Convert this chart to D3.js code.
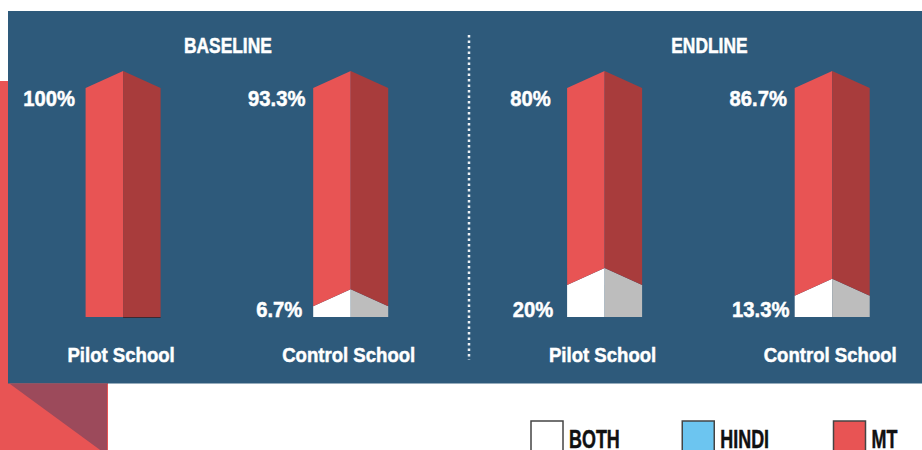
<!DOCTYPE html>
<html>
<head>
<meta charset="utf-8">
<script src="https://cdn.jsdelivr.net/npm/d3@7"></script>
<style>
  html, body { margin: 0; padding: 0; background: #ffffff; }
  svg { display: block; }
</style>
</head>
<body>
<svg id="chart" width="922" height="450"></svg>
<script>
// ---- data ----
const groups = ["BASELINE", "ENDLINE"];
const schools = ["Pilot School", "Control School"];
const bothValues  = [0, 6.7, 20, 13.3];   // BASELINE pilot, BASELINE control, ENDLINE pilot, ENDLINE control
const hindiValues = [0, 0, 0, 0];
const mtValues    = [100, 93.3, 80, 86.7];
const legendKeys  = ["BOTH", "HINDI", "MT"];

// ---- style ----
const PANEL = "#2E5A7B";
const RED = "#E85454", RED_DARK = "#A83C3C";
const WHITE = "#FFFFFF", GRAY = "#BDBDBD";
const BLUE = "#6CC5F0", BLUE_DARK = "#4A9CC4";
const FONT = "'Liberation Sans', Arial, sans-serif";

const svg = d3.select("#chart");

// decorative background shapes
svg.append("rect").attr("x", 0).attr("y", 81).attr("width", 8).attr("height", 369).attr("fill", RED);
svg.append("rect").attr("x", 0).attr("y", 383).attr("width", 108).attr("height", 67).attr("fill", RED);
svg.append("polygon").attr("points", "10,384 107,384 107,455").attr("fill", "#9C4A5B");
svg.append("rect").attr("x", 8).attr("y", 11).attr("width", 914).attr("height", 372.5).attr("fill", PANEL);

// ---- scales ----
const outer = d3.scalePoint().domain(groups).range([236.9, 718.4]);
const inner = d3.scalePoint().domain(schools).range([-113.8, 113.8]);
const y = d3.scaleLinear().domain([0, 20, 100]).range([317, 285, 88]);
const half = 37.5;   // width of each visible face
const rise = 17;     // ridge lift of the 3D prism

const rows = [];
groups.forEach((g, gi) => schools.forEach((s, si) => {
  const i = gi * 2 + si;
  rows.push({ group: g, school: s, cx: outer(g) + inner(s),
    both: bothValues[i], hindi: hindiValues[i], mt: mtValues[i] });
}));

const ridge = v => v === 0 ? y(0) : y(v) - rise;

function faces(cx, v0, v1) {
  const xl = cx - half, xr = cx + half;
  const front = [[xl, y(v0)], [xl, y(v1)], [cx, ridge(v1)], [cx, ridge(v0)]];
  const side  = [[cx, ridge(v0)], [cx, ridge(v1)], [xr, y(v1)], [xr, y(v0)]];
  return { front, side };
}

const segDefs = [
  { key: "both",  front: WHITE, side: GRAY },
  { key: "hindi", front: BLUE,  side: BLUE_DARK },
  { key: "mt",    front: RED,   side: RED_DARK }
];

const line = d3.line();
const bars = svg.append("g");
rows.forEach(r => {
  let acc = 0;
  segDefs.forEach(sd => {
    const v = r[sd.key];
    if (v > 0) {
      const f = faces(r.cx, acc, acc + v);
      bars.append("path").attr("d", line(f.front) + "Z").attr("fill", sd.front);
      bars.append("path").attr("d", line(f.side) + "Z").attr("fill", sd.side);
    }
    acc += v;
  });
  if (r.both === 0) {
    bars.append("line").attr("x1", r.cx).attr("x2", r.cx + half)
      .attr("y1", y(0) + 0.5).attr("y2", y(0) + 0.5)
      .attr("stroke", "#3a2a33").attr("stroke-width", 1);
  }
});

// text helper (condensed look via horizontal scaling)
function addText(parent, x, yy, sx, size, str, anchor, fill) {
  const c = fill || "#ffffff";
  return parent.append("text")
    .attr("transform", `translate(${x},${yy}) scale(${sx},1)`)
    .attr("font-family", FONT).attr("font-weight", "bold")
    .attr("font-size", size).attr("fill", c)
    .attr("stroke", c).attr("stroke-width", 0.5)
    .attr("text-anchor", anchor || "middle").text(str);
}

// value labels
const fmt = v => d3.format(".1f")(v).replace(/\.0$/, "") + "%";
const labels = svg.append("g");
rows.forEach(r => {
  addText(labels, r.cx - half - 36.5, y(100) + 18, 0.92, 22, fmt(r.mt));
  if (r.both > 0) addText(labels, r.cx - half - 34, y(0), 0.92, 22, fmt(r.both));
  addText(labels, r.cx - 2, 362, 0.885, 21, r.school);
});

// group titles
const titles = svg.append("g");
groups.forEach(g => addText(titles, outer(g) - 9, 53, 0.79, 22, g));

// divider
svg.append("line").attr("x1", 469).attr("x2", 469).attr("y1", 35).attr("y2", 360)
  .attr("stroke", "#EEF2F5").attr("stroke-width", 2.5).attr("stroke-dasharray", "2.5,3");

// legend
const legendX = d3.scalePoint().domain(legendKeys).range([531, 833.5]);
const legendColor = d3.scaleOrdinal().domain(legendKeys).range([WHITE, BLUE, RED]);
const lg = svg.append("g");
legendKeys.forEach(k => {
  const gk = lg.append("g").attr("transform", `translate(${legendX(k)},421)`);
  gk.append("rect").attr("width", 32).attr("height", 34)
    .attr("fill", legendColor(k)).attr("stroke", "#444").attr("stroke-width", 1.5);
  addText(gk, 38, 27, 0.69, 26, k, "start", "#111");
});
</script>
</body>
</html>
